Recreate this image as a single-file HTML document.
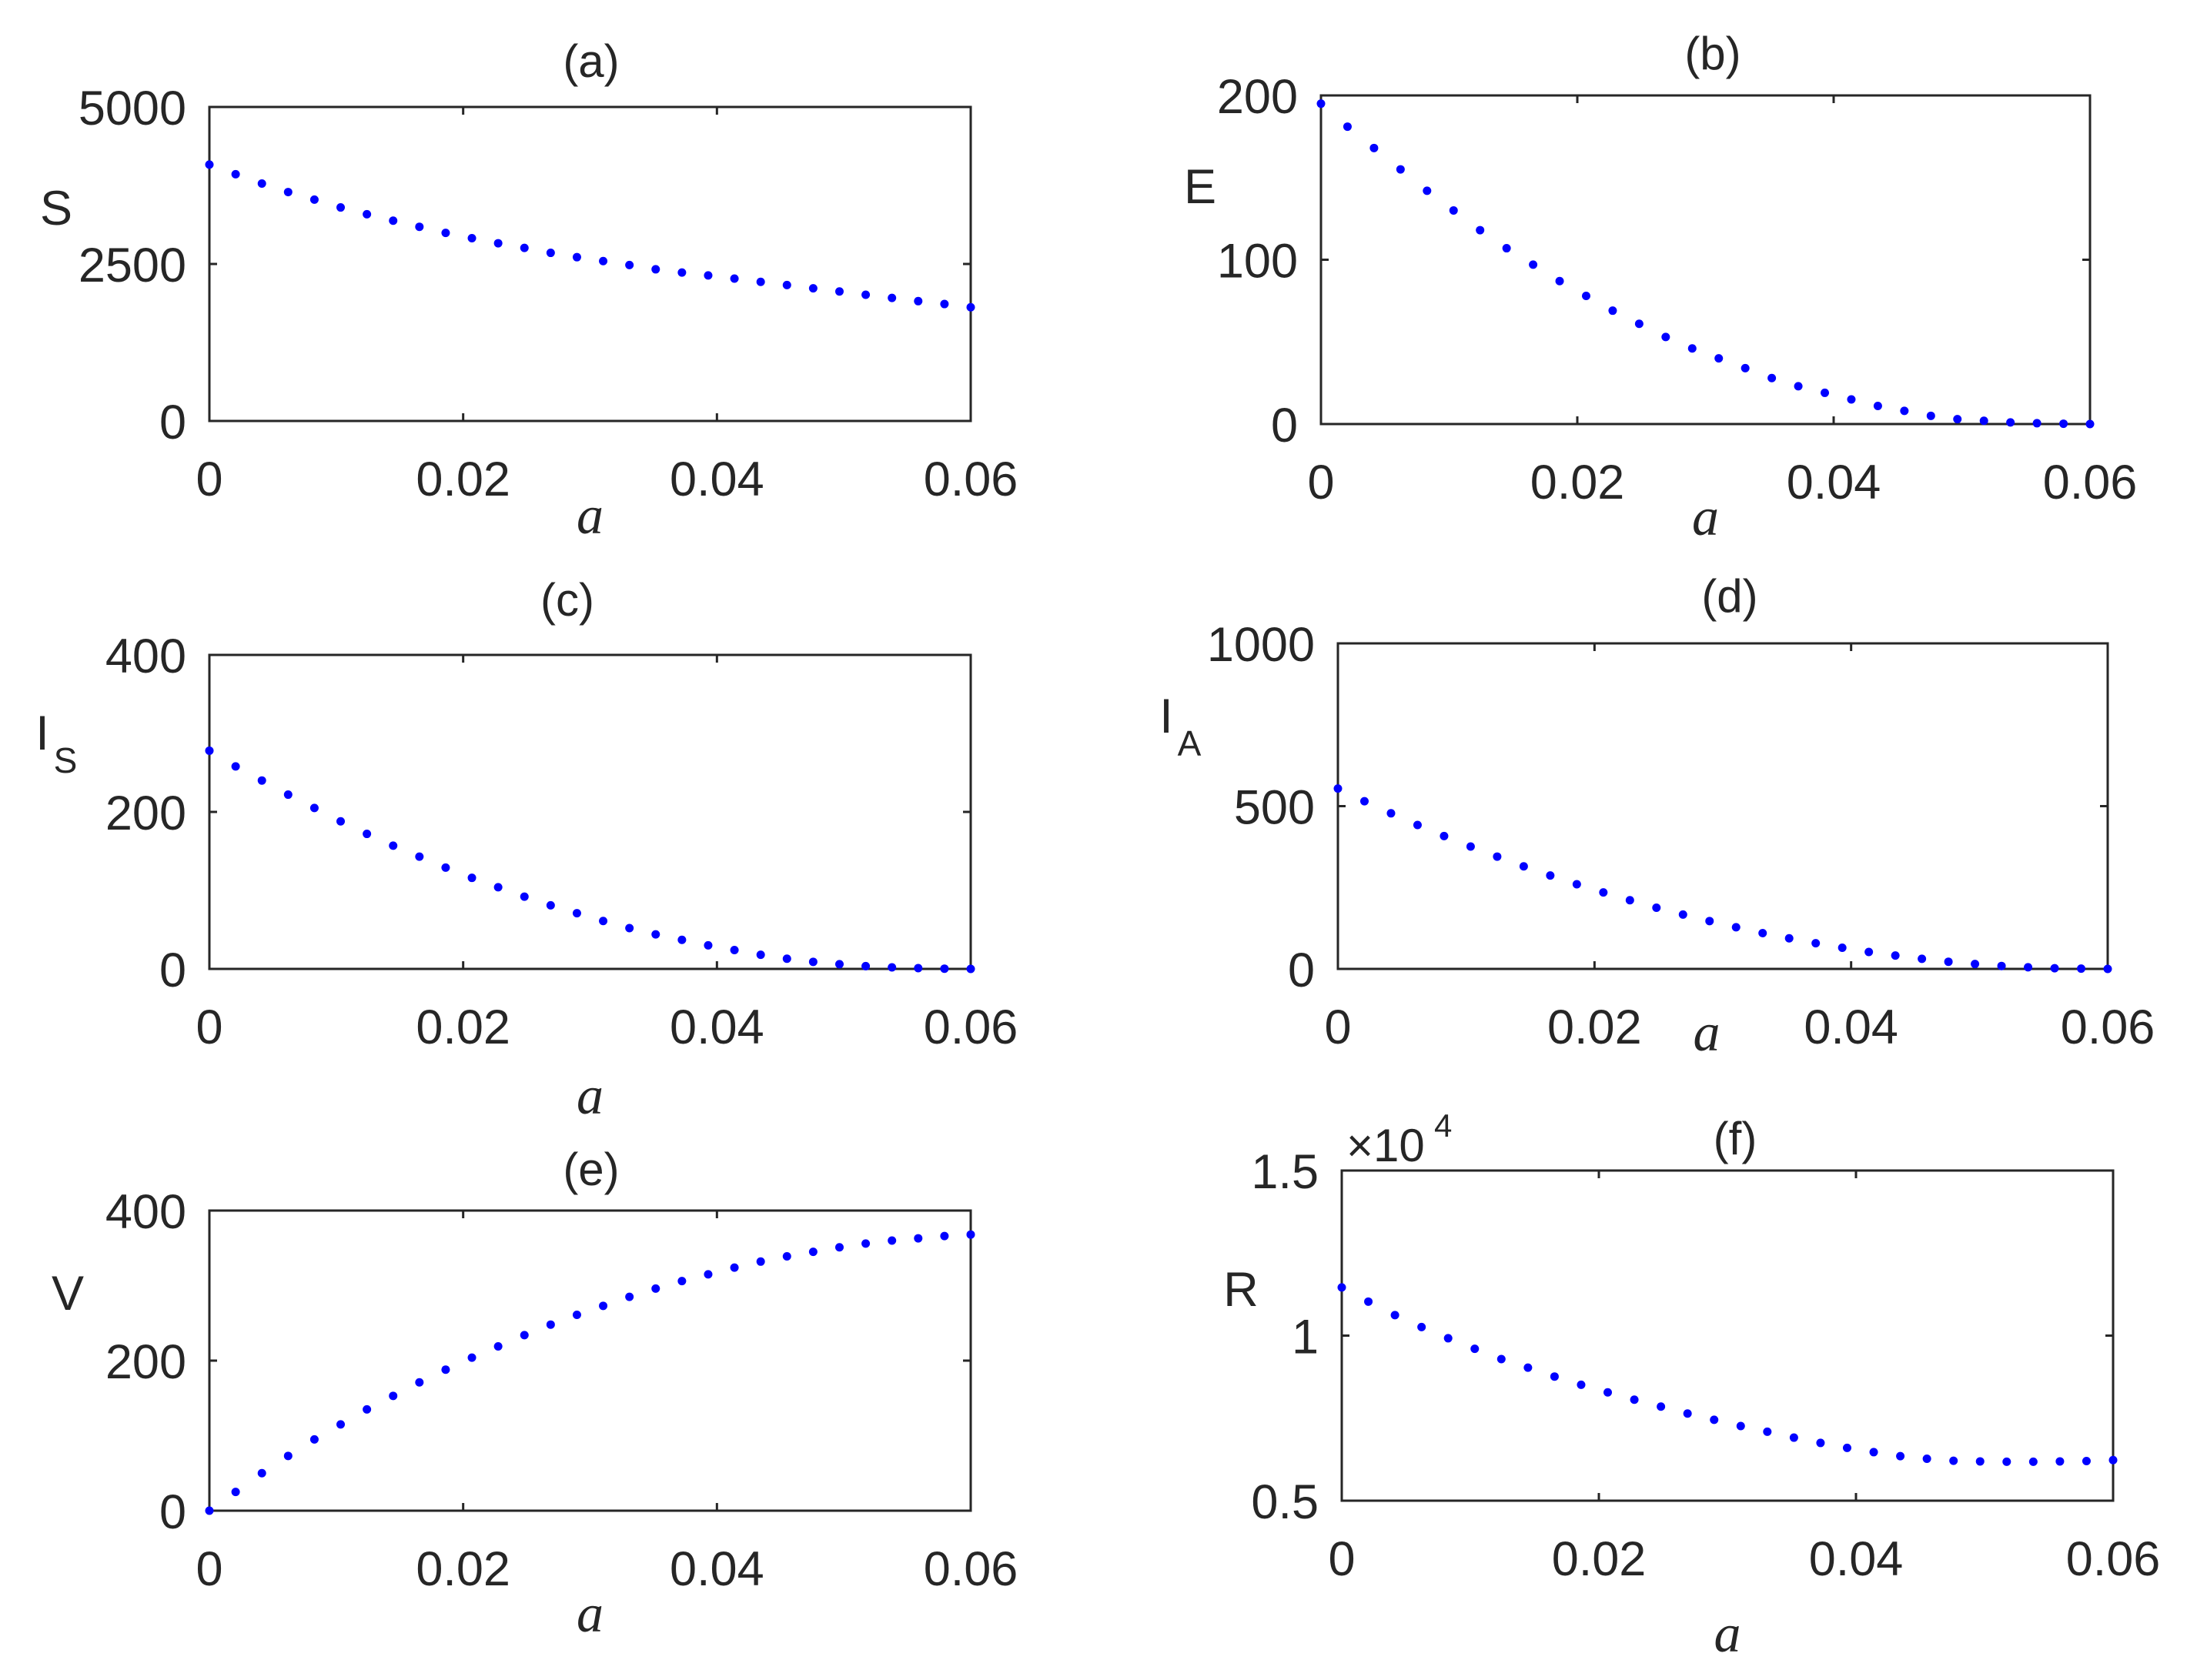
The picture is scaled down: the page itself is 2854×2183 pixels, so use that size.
<!DOCTYPE html>
<html><head><meta charset="utf-8"><style>
html,body{margin:0;padding:0;background:#fff;}
svg text{fill:#262626;}
</style></head><body>
<svg id="fig" width="2854" height="2178" viewBox="0 0 2854 2178" xmlns="http://www.w3.org/2000/svg" font-family="Liberation Sans, sans-serif"></svg>
<script>
// data (30 points, a from 0 to 0.06)
const nPoints = 30;
const xMax = 0.06;
const sValues = [4083,3929,3781,3645,3525,3400,3292,3189,3092,2995,2910,2830,2756,2677,2608,2546,2483,2415,2364,2318,2267,2215,2164,2113,2062,2010,1959,1908,1862,1811];
const eValues = [195,181,168,155,142,130,118,107,97,87,78,69,61,53,46,40,34,28,23,19,15,11,8,5,3,2,1,0.5,0.2,0];
const isValues = [278,258,240,222,205,188,172,157,143,129,116,104,92,81,71,61,52,44,37,30,24,18,13,9,6,3.5,2,1,0.3,0];
const iaValues = [554,515,478,442,408,376,345,315,287,260,235,211,188,167,147,128,110,94,79,65,52,41,31,22,15,9,5,2,1,0];
const vValues = [0,25,50,73,95,115,135,153,171,188,204,219,234,248,261,273,285,296,306,315,324,332,339,345,351,356,360,363,366,368];
const rValues = [11460,11030,10620,10260,9920,9600,9290,9030,8760,8510,8280,8060,7850,7640,7450,7260,7090,6910,6750,6600,6470,6350,6270,6210,6190,6180,6180,6190,6200,6230];
const xTicks = [0,0.02,0.04,0.06];
const xTickLabels = ["0","0.02","0.04","0.06"];

const NS="http://www.w3.org/2000/svg";
const svg=document.getElementById('fig');
function mk(tag,attrs,parent){const e=document.createElementNS(NS,tag);for(const k in attrs)e.setAttribute(k,attrs[k]);(parent||svg).appendChild(e);return e;}

const panels=[
 {id:'a',L:272,R:1261,T:139,B:547,ymin:0,ymax:5000,yt:[0,2500,5000],ytl:["0","2500","5000"],vals:sValues,title:[768,100],xl:673,yl:'S',ylp:[73,292]},
 {id:'b',L:1716,R:2715,T:124,B:551,ymin:0,ymax:200,yt:[0,100,200],ytl:["0","100","200"],vals:eValues,title:[2225,90],xl:675,yl:'E',ylp:[1559,264]},
 {id:'c',L:272,R:1261,T:851,B:1259,ymin:0,ymax:400,yt:[0,200,400],ytl:["0","200","400"],vals:isValues,title:[737,800],xl:1427,yl:'I',sub:'S',ylp:[55,974]},
 {id:'d',L:1738,R:2738,T:836,B:1259,ymin:0,ymax:1000,yt:[0,500,1000],ytl:["0","500","1000"],vals:iaValues,title:[2247,795],xl:1345,xlx:2217,yl:'I',sub:'A',ylp:[1515,952]},
 {id:'e',L:272,R:1261,T:1573,B:1963,ymin:0,ymax:400,yt:[0,200,400],ytl:["0","200","400"],vals:vValues,title:[768,1540],xl:2100,yl:'V',ylp:[88,1702]},
 {id:'f',L:1743,R:2745,T:1521,B:1950,ymin:5000,ymax:15000,yt:[5000,10000,15000],ytl:["0.5","1","1.5"],vals:rValues,title:[2254,1500],xl:2126,yl:'R',ylp:[1612,1697],exp:true}
];

panels.forEach(p=>{
  const g=mk('g',{});
  
  
  const xs=v=>p.L+(v/xMax)*(p.R-p.L);
  const ys=v=>p.B-(v-p.ymin)/(p.ymax-p.ymin)*(p.B-p.T);
  const box=mk('rect',{x:p.L,y:p.T,width:p.R-p.L,height:p.B-p.T,fill:'none',stroke:'#262626','stroke-width':3},g);
  
  
  xTicks.forEach((t,i)=>{
    const x=xs(t);
    mk('line',{x1:x,y1:p.B,x2:x,y2:p.B-10,stroke:'#262626','stroke-width':3},g);
    mk('line',{x1:x,y1:p.T,x2:x,y2:p.T+10,stroke:'#262626','stroke-width':3},g);
    const tx=mk('text',{x:x,y:p.B+97,'font-size':63,'text-anchor':'middle'},g);
    tx.textContent=xTickLabels[i];
    
    
  });
  p.yt.forEach((t,i)=>{
    const y=ys(t);
    mk('line',{x1:p.L,y1:y,x2:p.L+10,y2:y,stroke:'#262626','stroke-width':3},g);
    mk('line',{x1:p.R,y1:y,x2:p.R-10,y2:y,stroke:'#262626','stroke-width':3},g);
    const tx=mk('text',{x:p.L-30,y:y+23,'font-size':63,'text-anchor':'end'},g);
    tx.textContent=p.ytl[i];
    
    
  });
  p.vals.forEach((v,i)=>{
    const a=i*xMax/(nPoints-1);
    const c=mk('circle',{cx:xs(a),cy:ys(v),r:5.5,fill:'#0000ff'},g);
    
    
  });
  const ti=mk('text',{x:p.title[0],y:p.title[1],'font-size':60,'text-anchor':'middle',fill:'#000'},g);
  ti.textContent='('+p.id+')';
  
  
  const xl=mk('text',{x:p.xlx||(p.L+p.R)/2,y:p.xl+20,'font-size':70,'text-anchor':'middle','font-style':'italic','font-family':'Liberation Serif, serif'},g);
  xl.textContent='a';
  
  
  const yl=mk('text',{x:p.ylp[0],y:p.ylp[1],'font-size':63,'text-anchor':'middle'},g);
  yl.textContent=p.yl;
  
  
  if(p.sub){
    const sb=mk('text',{x:p.ylp[0]+30,y:p.ylp[1]+30,'font-size':46,'text-anchor':'middle'},g);
    sb.textContent=p.sub;
    
    
  }
  if(p.exp){
    const ex=mk('text',{x:p.L+6,y:p.T-12,'font-size':60},g);
    ex.textContent='×10';
    
    
    const e4=mk('text',{x:p.L+120,y:p.T-44,'font-size':42},g);
    e4.textContent='4';
    
    
  }
});
</script>
</body></html>
